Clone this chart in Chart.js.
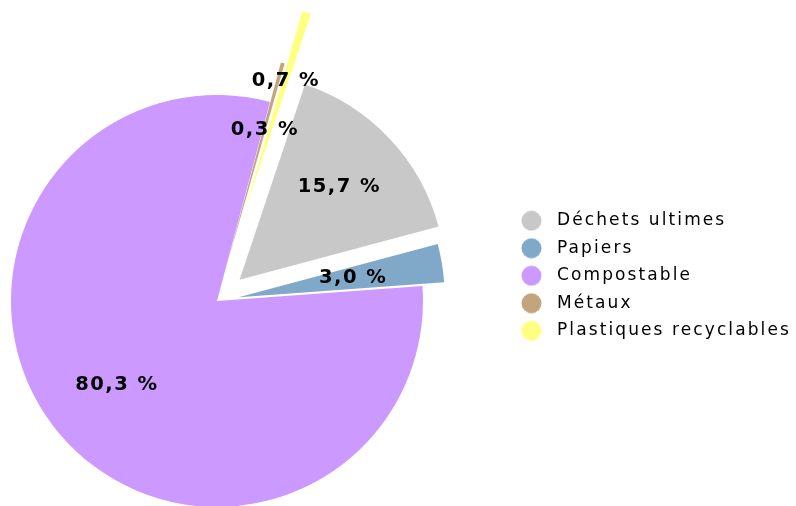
<!DOCTYPE html>
<html>
<head>
<meta charset="utf-8">
<script src="https://cdn.jsdelivr.net/npm/chart.js@4/dist/chart.umd.min.js"></script>
<style>
  html, body { margin: 0; padding: 0; background: #fff; }
</style>
</head>
<body>
<canvas id="c" width="796" height="506"></canvas>
<script>
// ---- data ----
const categories = ["Déchets ultimes", "Papiers", "Compostable", "Métaux", "Plastiques recyclables"];
const shares = [15.7, 3.0, 80.3, 0.3, 0.7];
const sliceColors = ["#C8C8C8", "#7FA8C9", "#CB99FF", "#C4A47C", "#FFFF80"];

// ---- styling ----
const explodePx = [31, 22, 0, 41, 96];          // outward shift of each slice (px)
const labelDepth = [0.66, 0.56, 0.636, 0.66, 0.65];

function makeDot(color) {
  const c = document.createElement('canvas');
  c.width = 21; c.height = 21;
  const g = c.getContext('2d');
  g.fillStyle = color;
  g.beginPath();
  g.arc(10.5, 10.5, 10, 0, Math.PI * 2);
  g.fill();
  return c;
}
const dots = sliceColors.map(makeDot);
const fmt = v => v.toFixed(1).replace('.', ',') + ' %';

const layoutPlugin = {
  id: 'fixedLayout',
  afterLayout(chart) {
    chart.chartArea = { left: 0, top: 96, right: 434, bottom: 506, width: 434, height: 410 };
    const lg = chart.legend;
    if (lg) {
      lg.left = 504; lg.right = 796;
      lg.top = 201.7; lg.bottom = 506;
      lg.width = lg.right - lg.left; lg.height = lg.bottom - lg.top;
    }
  },
  beforeDraw(chart) {
    chart.ctx.letterSpacing = '2.1px';
  }
};

// shift exploded slices outward along their bisector
const explodePlugin = {
  id: 'explode',
  beforeDatasetDraw(chart, args) {
    args.meta.data.forEach((arc, i) => {
      if (arc._exploded) return;
      const base = Object.getPrototypeOf(arc).draw;
      arc.draw = function (ctx, area) {
        const mid = (this.startAngle + this.endAngle) / 2;
        const t = explodePx[i] || 0;
        ctx.save();
        ctx.translate(Math.cos(mid) * t, Math.sin(mid) * t);
        base.call(this, ctx, area);
        ctx.restore();
      };
      arc._exploded = true;
    });
  }
};

const labelPlugin = {
  id: 'sliceLabels',
  afterDatasetsDraw(chart) {
    const ctx = chart.ctx;
    const meta = chart.getDatasetMeta(0);
    const ls = 1.5;
    ctx.save();
    ctx.letterSpacing = ls + 'px';
    ctx.font = 'bold 19.5px "DejaVu Sans"';
    ctx.fillStyle = '#000';
    ctx.textAlign = 'center';
    ctx.textBaseline = 'middle';
    meta.data.forEach((arc, i) => {
      const p = arc.getProps(['x', 'y', 'startAngle', 'endAngle', 'outerRadius'], true);
      const mid = (p.startAngle + p.endAngle) / 2;
      const d = (explodePx[i] || 0) + labelDepth[i] * p.outerRadius;
      ctx.fillText(fmt(shares[i]), p.x + Math.cos(mid) * d + ls / 2, p.y + Math.sin(mid) * d);
    });
    ctx.restore();
  }
};

new Chart(document.getElementById('c'), {
  type: 'pie',
  data: {
    labels: categories,
    datasets: [{
      data: shares,
      backgroundColor: sliceColors,
      borderWidth: 0,
      clip: false
    }]
  },
  options: {
    responsive: false,
    animation: false,
    events: [],
    rotation: 18.5,
    radius: 206,
    layout: { padding: 0 },
    plugins: {
      tooltip: { enabled: false },
      legend: {
        position: 'right',
        align: 'start',
        labels: {
          usePointStyle: true,
          pointStyleWidth: 34,
          boxHeight: 17,
          padding: 10.5,
          color: '#000',
          font: { family: '"DejaVu Sans"', size: 17 },
          generateLabels(chart) {
            return chart.data.labels.map((text, i) => ({
              text,
              fillStyle: sliceColors[i],
              strokeStyle: sliceColors[i],
              lineWidth: 0,
              pointStyle: dots[i],
              hidden: false,
              index: i,
              fontColor: '#000'
            }));
          }
        }
      }
    }
  },
  plugins: [layoutPlugin, explodePlugin, labelPlugin]
});
</script>
</body>
</html>
